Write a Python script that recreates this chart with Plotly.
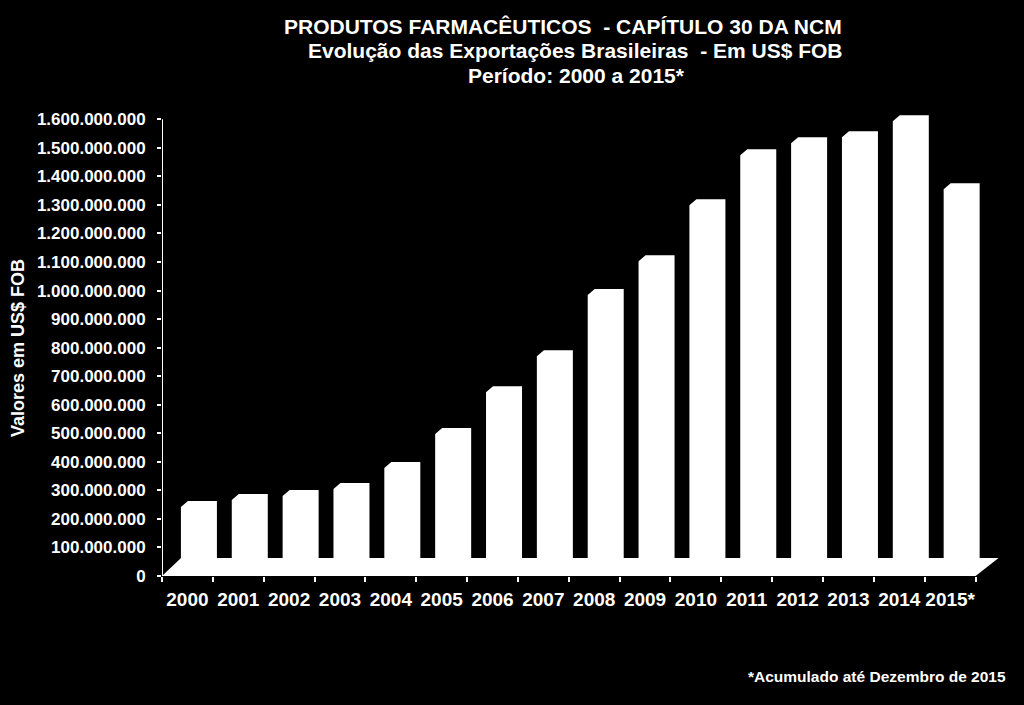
import plotly.graph_objects as go

# ---------------- data ----------------
years = ["2000", "2001", "2002", "2003", "2004", "2005", "2006", "2007",
         "2008", "2009", "2010", "2011", "2012", "2013", "2014", "2015*"]
values = [221e6, 245e6, 259e6, 284e6, 357e6, 476e6, 623e6, 749e6,
          963e6, 1082e6, 1278e6, 1453e6, 1495e6, 1516e6, 1572e6, 1334e6]
y_tick_vals = [0, 1e8, 2e8, 3e8, 4e8, 5e8, 6e8, 7e8, 8e8, 9e8, 10e8,
               11e8, 12e8, 13e8, 14e8, 15e8, 16e8]
y_tick_text = ["0", "100.000.000", "200.000.000", "300.000.000", "400.000.000",
               "500.000.000", "600.000.000", "700.000.000", "800.000.000",
               "900.000.000", "1.000.000.000", "1.100.000.000", "1.200.000.000",
               "1.300.000.000", "1.400.000.000", "1.500.000.000", "1.600.000.000"]

title_lines = ["PRODUTOS FARMACÊUTICOS  - CAPÍTULO 30 DA NCM",
               "Evolução das Exportações Brasileiras  - Em US$ FOB",
               "Período: 2000 a 2015*"]
y_title = "Valores em US$ FOB"
footnote = "*Acumulado até Dezembro de 2015"

# ---------------- layout geometry ----------------
W, H = 1024, 705
ML, MR, MT, MB = 162, 23, 105, 129
X_MAX = 16.5
Y_MAX = 1.65e9
plot_w = W - ML - MR
plot_h = H - MT - MB
px_x = plot_w / X_MAX          # px per category
px_y = plot_h / Y_MAX          # px per value unit


def dx(p):
    return p / px_x


def dy(p):
    return p / px_y


def paper_x(px):
    return (px - ML) / plot_w


def paper_y(py):
    return (H - MB - py) / plot_h


FONT = "Liberation Sans, Arial, sans-serif"

# 3D-like bars (front face + top/right faces, all white)
front_w = dx(29)
off_x = dx(8)
base = dy(6)
depth_x = dx(7)
depth_y = dy(6)
gap = (1 - front_w) / 2

bx, by = [], []
for i, v in enumerate(values):
    xl = i + gap + off_x
    xr = xl + front_w
    bx += [xl, xl, xl + depth_x, xr + depth_x, xr + depth_x, xr, xl, None]
    by += [base, base + v, base + v + depth_y, base + v + depth_y,
           base + depth_y, base, base, None]

n = len(years)
floor_x = [0, n, n + dx(23), dx(19), 0]
floor_y = [0, 0, dy(18), dy(18), 0]

fig = go.Figure()
fig.add_trace(go.Scatter(x=floor_x, y=floor_y, mode="lines", fill="toself",
                         fillcolor="white", line=dict(width=0, color="white"),
                         hoverinfo="skip", showlegend=False))
fig.add_trace(go.Scatter(x=bx, y=by, mode="lines", fill="toself",
                         fillcolor="white", line=dict(width=0, color="white"),
                         hoverinfo="skip", showlegend=False))

fig.update_layout(
    width=W, height=H,
    margin=dict(l=ML, r=MR, t=MT, b=MB, autoexpand=False),
    paper_bgcolor="black", plot_bgcolor="black",
    showlegend=False,
    font=dict(family=FONT, color="white"),
)

fig.update_xaxes(
    range=[0, X_MAX], showgrid=False, zeroline=False, showline=False,
    tickmode="array", tickvals=[i + 0.5 for i in range(n)], ticktext=years,
    ticks="", ticklabelstandoff=10,
    tickfont=dict(family=FONT, size=19, color="white", weight="bold"),
    minor=dict(tickmode="array", tickvals=list(range(n + 1)), ticks="outside",
               ticklen=5, tickwidth=1.5, tickcolor="white", showgrid=False),
)
fig.update_yaxes(
    range=[0, Y_MAX], showgrid=False, zeroline=False, showline=False,
    tickmode="array", tickvals=y_tick_vals, ticktext=y_tick_text,
    ticks="outside", ticklen=4, tickwidth=1.5, tickcolor="white",
    ticklabelstandoff=8,
    tickfont=dict(family=FONT, size=17, color="white", weight="bold"),
)

# y axis line
fig.add_shape(type="line", xref="x", yref="y", x0=0, x1=0, y0=0,
              y1=max(y_tick_vals), line=dict(color="white", width=2))

# title (three lines)
for line, cx, cy in zip(title_lines, [563, 575, 576], [26, 50, 75]):
    fig.add_annotation(text=line, xref="paper", yref="paper",
                       x=paper_x(cx), y=paper_y(cy),
                       xanchor="center", yanchor="middle", showarrow=False,
                       font=dict(family=FONT, size=21, color="white", weight="bold"))

fig.add_annotation(text=y_title, textangle=-90, xref="paper", yref="paper",
                   x=paper_x(18), y=paper_y(348),
                   xanchor="center", yanchor="middle", showarrow=False,
                   font=dict(family=FONT, size=18, color="white", weight="bold"))
fig.add_annotation(text=footnote, xref="paper", yref="paper",
                   x=paper_x(1008), y=paper_y(676),
                   xanchor="right", yanchor="middle", showarrow=False,
                   font=dict(family=FONT, size=15.5, color="white", weight="bold"))

fig.write_html(
    "out.html",
    config={"displayModeBar": False},
    post_script=("document.body.style.margin='0';"
                 "document.body.style.background='black';"
                 "document.body.style.overflow='hidden';"),
)
